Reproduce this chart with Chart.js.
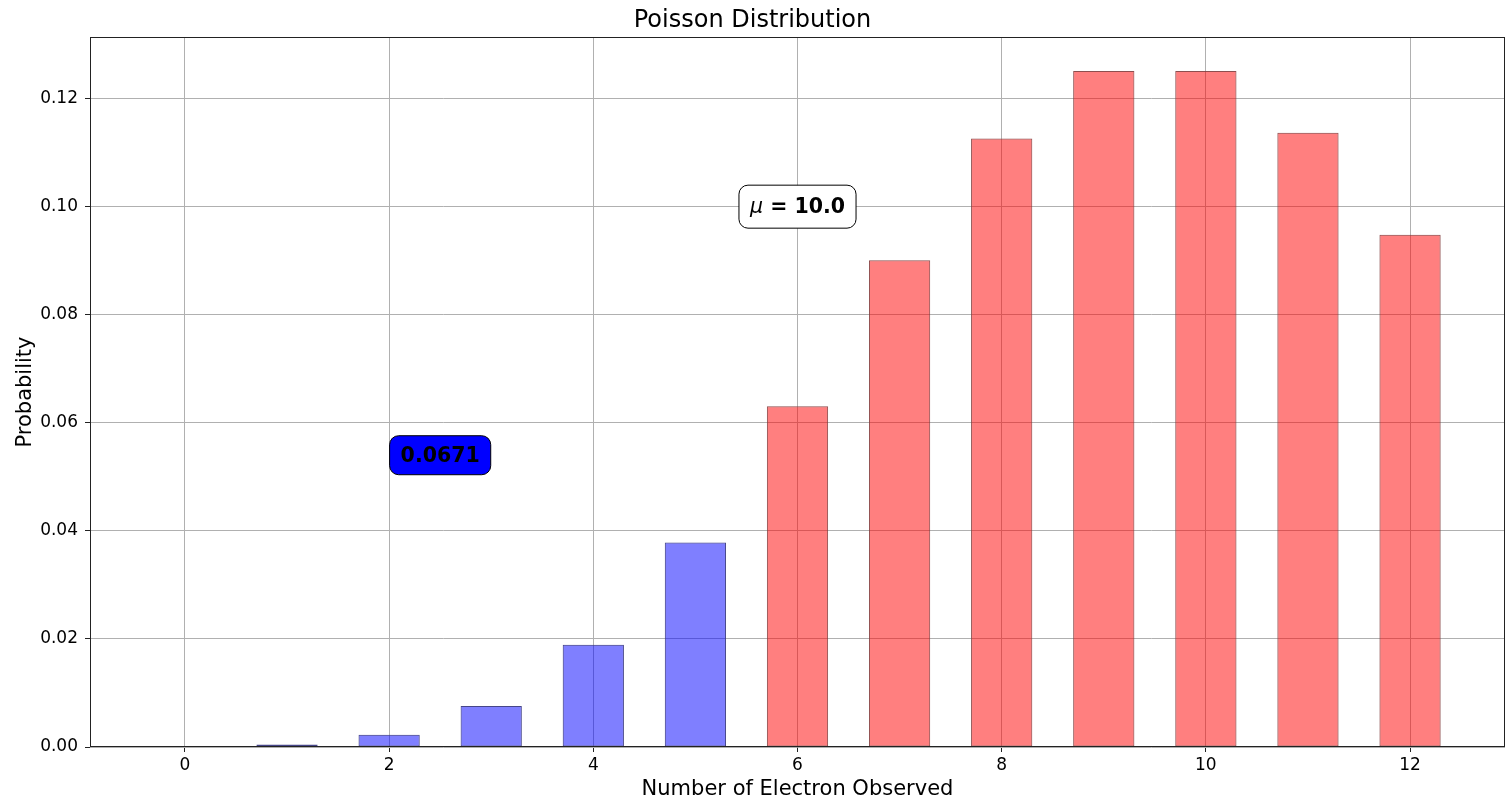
<!DOCTYPE html>
<html>
<head>
<meta charset="utf-8">
<title>Poisson Distribution</title>
<script src="https://cdn.jsdelivr.net/npm/chart.js@4.4.1/dist/chart.umd.min.js"></script>
<style>
  html, body { margin: 0; padding: 0; background: #ffffff; }
  #chart { display: block; }
</style>
</head>
<body>
<canvas id="chart" width="1509" height="800"></canvas>
<script>
// Number of electrons k and the Poisson probability P(k) for mean 10
const electrons = [0, 1, 2, 3, 4, 5, 6, 7, 8, 9, 10, 11, 12];
const probabilities = [0.0000454, 0.000454, 0.00227, 0.00757, 0.01892, 0.03783,
                       0.06306, 0.09008, 0.1126, 0.1251, 0.1251, 0.1137, 0.09478];
const meanValue = 10.0;
const tailLimit = 5;            // counts 0..tailLimit are highlighted in blue
const xTickValues = [0, 2, 4, 6, 8, 10, 12];
const yTickValues = [0.00, 0.02, 0.04, 0.06, 0.08, 0.10, 0.12];

// cumulative probability of the highlighted tail
const tailProbability = probabilities
  .filter((p, i) => electrons[i] <= tailLimit)
  .reduce((a, b) => a + b, 0);

const FONT = "'DejaVu Sans', 'Liberation Sans', sans-serif";
const BLUE = 'rgba(0, 0, 255, 0.5)';
const RED = 'rgba(255, 0, 0, 0.5)';
const BLUE_EDGE = 'rgba(60, 60, 130, 0.95)';
const RED_EDGE = 'rgba(130, 60, 60, 0.9)';

const inTail = electrons.map(k => k <= tailLimit);
const barColors = inTail.map(t => (t ? BLUE : RED));
const edgeColors = inTail.map(t => (t ? BLUE_EDGE : RED_EDGE));

// box-and-text annotations plus the frame around the plotting area
const annotationPlugin = {
  id: 'annotations',
  afterDraw(chart) {
    const { ctx, chartArea, scales } = chart;
    const x = scales.x, y = scales.y;

    // frame (all four spines)
    ctx.save();
    ctx.strokeStyle = '#222222';
    ctx.lineWidth = 1;
    ctx.strokeRect(chartArea.left + 0.5, chartArea.top + 0.5,
                   chartArea.right - chartArea.left - 1, chartArea.bottom - chartArea.top - 1);
    ctx.restore();

    const fontSize = 20.5;
    const padX = 11;

    // mean label: italic mu followed by bold text
    {
      const cx = x.getPixelForValue(6);
      const cy = y.getPixelForValue(0.1);
      const h = 43;
      ctx.save();
      const muFont = `oblique ${fontSize}px ${FONT}`;
      const restFont = `bold ${fontSize}px ${FONT}`;
      const rest = ' = ' + meanValue.toFixed(1);
      ctx.font = muFont;
      const wMu = ctx.measureText('\u03bc').width;
      ctx.font = restFont;
      const wRest = ctx.measureText(rest).width;
      const w = wMu + wRest;
      ctx.beginPath();
      ctx.roundRect(cx - w / 2 - padX, cy - h / 2, w + 2 * padX, h, 9);
      ctx.fillStyle = '#ffffff';
      ctx.fill();
      ctx.lineWidth = 1;
      ctx.strokeStyle = '#000000';
      ctx.stroke();
      ctx.fillStyle = '#000000';
      ctx.textBaseline = 'middle';
      ctx.textAlign = 'left';
      ctx.font = muFont;
      ctx.fillText('\u03bc', cx - w / 2, cy + 1);
      ctx.font = restFont;
      ctx.fillText(rest, cx - w / 2 + wMu, cy + 1);
      ctx.restore();
    }

    // cumulative tail probability
    {
      const cx = x.getPixelForValue(2.5);
      const cy = y.getPixelForValue(0.054);
      const txt = tailProbability.toFixed(4);
      const h = 39;
      ctx.save();
      ctx.font = `bold ${fontSize}px ${FONT}`;
      const w = ctx.measureText(txt).width;
      ctx.beginPath();
      ctx.roundRect(cx - w / 2 - padX, cy - h / 2, w + 2 * padX, h, 9);
      ctx.fillStyle = '#0000ff';
      ctx.fill();
      ctx.lineWidth = 1;
      ctx.strokeStyle = '#000000';
      ctx.stroke();
      ctx.fillStyle = '#000000';
      ctx.textBaseline = 'middle';
      ctx.textAlign = 'center';
      ctx.fillText(txt, cx, cy + 1);
      ctx.restore();
    }
  }
};

new Chart(document.getElementById('chart'), {
  type: 'bar',
  data: {
    datasets: [{
      data: electrons.map((k, i) => ({ x: k, y: probabilities[i] })),
      backgroundColor: barColors,
      borderColor: edgeColors,
      borderWidth: 1,
      borderSkipped: false,
      categoryPercentage: 1.0,
      barPercentage: 0.6
    }]
  },
  options: {
    responsive: false,
    animation: false,
    devicePixelRatio: 1,
    layout: { padding: { left: 0, right: 4, top: 0, bottom: 0 } },
    plugins: {
      legend: { display: false },
      tooltip: { enabled: false },
      title: {
        display: true,
        text: 'Poisson Distribution',
        color: '#000000',
        font: { family: FONT, size: 24, weight: 'normal' },
        padding: { top: 6, bottom: 2.2 }
      }
    },
    scales: {
      x: {
        type: 'linear',
        min: -0.93,
        max: 12.93,
        offset: false,
        z: 1,
        afterBuildTicks: s => { s.ticks = xTickValues.map(v => ({ value: v })); },
        afterFit: s => { s.height = 53; },
        grid: { offset: false, color: '#b0b0b0', lineWidth: 1, drawTicks: true, tickLength: 5, tickColor: '#222222' },
        border: { display: false },
        ticks: {
          color: '#000000',
          font: { family: FONT, size: 17 },
          padding: 3,
          maxRotation: 0,
          callback: v => String(v)
        },
        title: {
          display: true,
          text: 'Number of Electron Observed',
          color: '#000000',
          font: { family: FONT, size: 21 },
          padding: { top: 0, bottom: -2 }
        }
      },
      y: {
        type: 'linear',
        min: 0,
        max: 0.1314,
        z: 1,
        afterBuildTicks: s => { s.ticks = yTickValues.map(v => ({ value: v })); },
        afterFit: s => { s.width = 90; },
        grid: { color: '#b0b0b0', lineWidth: 1, drawTicks: true, tickLength: 5, tickColor: '#222222' },
        border: { display: false },
        ticks: {
          color: '#000000',
          font: { family: FONT, size: 17 },
          padding: 7,
          callback: v => Number(v).toFixed(2)
        },
        title: {
          display: true,
          text: 'Probability',
          color: '#000000',
          font: { family: FONT, size: 21 },
          padding: { top: 13, bottom: 0 }
        }
      }
    }
  },
  plugins: [annotationPlugin]
});
</script>
</body>
</html>
